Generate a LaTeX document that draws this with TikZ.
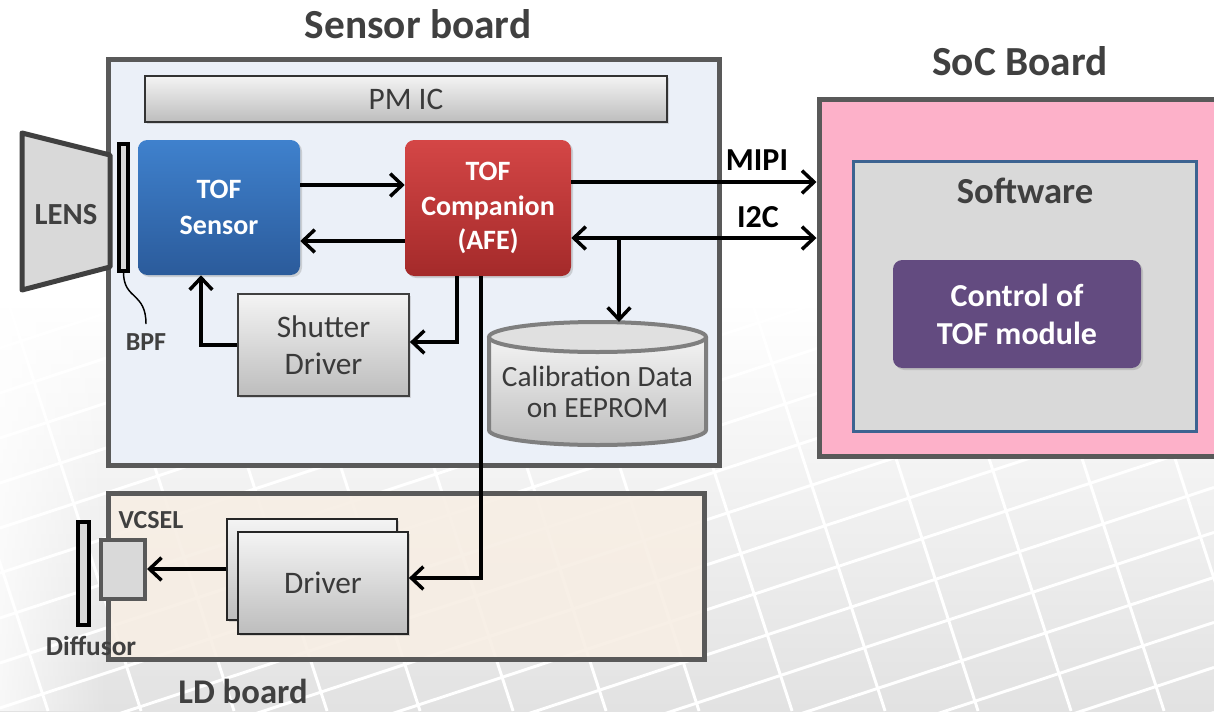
\documentclass[tikz,border=0pt]{standalone}
\usepackage{fontspec}
\setmainfont{Carlito}
\usetikzlibrary{arrows.meta,shadows,fadings}
\definecolor{bline}{HTML}{595959}
\definecolor{dtext}{HTML}{404040}
\definecolor{gtext}{HTML}{3A3A3A}
\definecolor{sbfill}{HTML}{EBF0F8}
\definecolor{ldfill}{HTML}{F7EEE4}
\definecolor{socfill}{HTML}{FDB1C9}
\definecolor{swfill}{HTML}{D9D9D9}
\definecolor{swline}{HTML}{3D6391}
\definecolor{ctrlfill}{HTML}{634B80}
\definecolor{bluetop}{HTML}{3F81CD}
\definecolor{bluebot}{HTML}{2B5B9B}
\definecolor{redtop}{HTML}{D44646}
\definecolor{redbot}{HTML}{A42A2A}
\definecolor{greytop}{HTML}{F4F4F4}
\definecolor{greybot}{HTML}{BDBDBD}
\definecolor{lensfill}{HTML}{D9D9D9}
\definecolor{bgg}{HTML}{E2E2E2}
\definecolor{cylline}{HTML}{7F7F7F}
\begin{document}
\begin{tikzpicture}[x=0.75pt,y=-0.75pt,
  board/.style={draw=bline, line width=3.75pt, inner sep=0pt},
  ttl/.style={font=\bfseries\fontsize{31}{33}\selectfont, text=dtext, anchor=base},
  subttl/.style={font=\bfseries\fontsize{26}{28}\selectfont, text=dtext, anchor=base},
  lbl/.style={font=\bfseries\fontsize{19.5}{21}\selectfont, text=dtext, anchor=base},
  sig/.style={font=\bfseries\fontsize{24}{26}\selectfont, text=black, anchor=base},
  chip/.style={rounded corners=7pt, text=white, align=center, inner sep=0pt,
    font=\bfseries\fontsize{21}{26}\selectfont,
    drop shadow={shadow xshift=1.5pt, shadow yshift=-1.5pt, opacity=0.3}},
  greybox/.style={draw=black!80, line width=1.3pt, top color=greytop, bottom color=greybot,
    align=center, inner sep=0pt, text=gtext, font=\fontsize{23.5}{28}\selectfont,
    drop shadow={shadow xshift=1.5pt, shadow yshift=-1.5pt, opacity=0.25}},
  bar/.style={draw=black, line width=3pt, fill=lensfill, inner sep=0pt},
  arr/.style={line width=2.6pt, -{Straight Barb[length=9pt,width=17pt]}},
  darr/.style={line width=2.6pt, {Straight Barb[length=9pt,width=17pt]}-{Straight Barb[length=9pt,width=17pt]}}
]
\useasboundingbox (0,0) rectangle (1214,711);
\clip (0,0) rectangle (1214,711);
% background
\fill[white] (0,0) rectangle (1214,711);
\shade[top color=white, bottom color=bgg] (0,300) rectangle (1214,711);
\foreach \k in {-12,...,9}
  \draw[white, line width=2.2pt] (0,{753+45*\k}) -- (1214,{753+45*\k-0.33*1214});
\foreach \k in {-9,...,8}
  \draw[white, line width=2.2pt] ({561+93*\k},0) -- ({561+93*\k+0.325*711},711);
\fill[white, path fading=east, fill opacity=0.75] (0,250) rectangle (108,711);

% boards
\node[board, fill=sbfill, minimum width=458.25pt, minimum height=304.5pt] (sb) at (413.5,262) {};
\node[board, fill=ldfill, fill opacity=0.9, minimum width=447pt, minimum height=124.5pt] (ld) at (406,576) {};
\node[board, fill=socfill, minimum width=315.75pt, minimum height=267.75pt] (soc) at (1029.5,277.5) {};

\node[ttl] (sbt) at (418,38) {Sensor board};
\node[ttl] (soct) at (1020,75) {SoC Board};
\node[subttl] (ldt) at (243,703) {LD board};

% SoC contents
\node[draw=swline, line width=2.6pt, fill=swfill, minimum width=257.25pt, minimum height=202.5pt] (sw) at (1025,296.5) {};
\node[subttl, font=\bfseries\fontsize{27.5}{29}\selectfont] (swt) at (1025,203) {Software};
\node[chip, fill=ctrlfill, minimum width=186pt, minimum height=81pt, font=\bfseries\fontsize{24}{28.5}\selectfont] (ctrl) at (1017,314) {Control of\\TOF module};

% sensor board contents
\node[greybox, minimum width=391.5pt, minimum height=34.5pt, font=\fontsize{23.5}{26}\selectfont] (pmic) at (406,99) {PM IC};
\node[chip, top color=bluetop, bottom color=bluebot, minimum width=121.5pt, minimum height=101.25pt, font=\bfseries\fontsize{21}{27}\selectfont] (sensor) at (219,207.5) {TOF\\Sensor};
\node[chip, top color=redtop, bottom color=redbot, minimum width=124.5pt, minimum height=102pt] (comp) at (488,208) {TOF\\Companion\\(AFE)};
\node[greybox, draw=dtext, minimum width=128.25pt, minimum height=76.5pt] (shutter) at (323.5,345) {Shutter\\Driver};

% cylinder
\shade[top color=greytop, bottom color=greybot] (489,337) -- (489,430)
  arc[start angle=180, end angle=0, x radius=108.5, y radius=15] -- (706,337)
  arc[start angle=0, end angle=180, x radius=108.5, y radius=15] -- cycle;
\draw[cylline, line width=3pt] (489,337) -- (489,430)
  arc[start angle=180, end angle=0, x radius=108.5, y radius=15] -- (706,337);
\draw[cylline, line width=3pt, fill=white!88!black] (597.5,337) ellipse [x radius=108.5, y radius=15];
\node[align=center, text=gtext, font=\fontsize{22}{23}\selectfont] (cal) at (597.5,392) {Calibration Data\\on EEPROM};

% lens and BPF
\draw[draw=dtext, line width=3.75pt, fill=lensfill, line join=round] (22,133) -- (110,155) -- (110,267) -- (22,290) -- cycle;
\node[font=\bfseries\fontsize{23}{25}\selectfont, text=dtext, anchor=base] (lens) at (66,224) {LENS};
\node[bar, minimum width=6.75pt, minimum height=95.25pt] (bpf) at (123.5,207.5) {};
\node[lbl] (bpfl) at (146,350) {BPF};
\draw[line width=1.1pt] (bpf.south) .. controls (124,300) and (146,292) .. (146,324);

% LD board contents
\node[greybox, draw=black!85, minimum width=127.5pt, minimum height=75.75pt] (drvb) at (312,569.5) {};
\node[greybox, draw=black!85, minimum width=127.5pt, minimum height=76.5pt] (drvf) at (323,583) {Driver};
\node[draw=bline, line width=3pt, fill=lensfill, minimum width=33pt, minimum height=44.25pt, inner sep=0pt] (vcsel) at (123,569.5) {};
\node[lbl, anchor=base west] (vcsell) at (114,528) {VCSEL};
\node[bar, minimum width=8.25pt, minimum height=77.25pt] (diff) at (83.5,573.5) {};
\node[lbl, font=\bfseries\fontsize{20.5}{22}\selectfont] (diffl) at (91,655) {Diffusor};

% helper coordinates
\coordinate (r182) at (0,182);
\coordinate (r185) at (0,185);
\coordinate (r238) at (0,238);
\coordinate (r241) at (0,241);
\coordinate (r342) at (0,342);
\coordinate (r345) at (0,345);
\coordinate (r569) at (0,569);
\coordinate (r578) at (0,578);
\coordinate (c201) at (201,0);
\coordinate (c457) at (457,0);
\coordinate (c481) at (481,0);
\coordinate (br) at (619,238);
\coordinate (caltop) at (619,322);

% connectors
\draw[arr] (sensor.east |- r185) -- (comp.west |- r185);
\draw[arr] (comp.west |- r241) -- (sensor.east |- r241);
\draw[arr] (comp.east |- r182) -- (soc.west |- r182);
\draw[darr] (comp.east |- r238) -- (soc.west |- r238);
\draw[arr] (br) -- (caltop);
\draw[arr] (comp.south -| c457) |- (shutter.east |- r342);
\draw[arr] (shutter.west |- r345) -| (sensor.south -| c201);
\draw[arr] (comp.south -| c481) |- (drvf.east |- r578);
\draw[arr] (drvb.west |- r569) -- (vcsel.east |- r569);

\node[sig] (mipi) at (757,170) {MIPI};
\node[sig] (i2c) at (758,227) {I2C};
\end{tikzpicture}
\end{document}
